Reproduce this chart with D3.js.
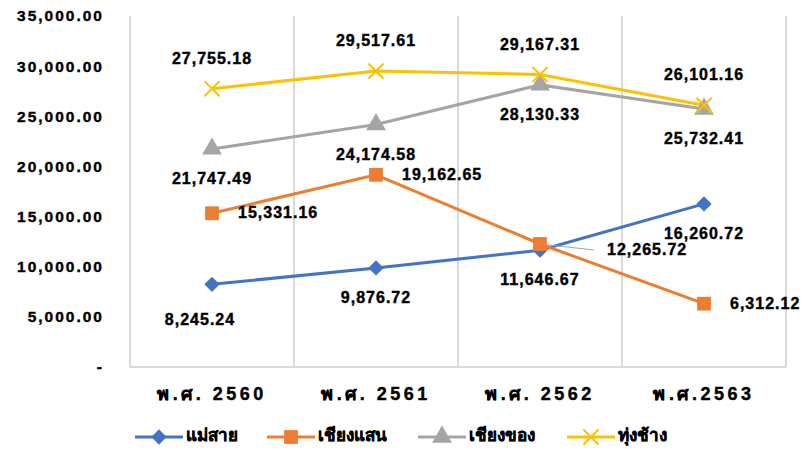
<!DOCTYPE html>
<html>
<head>
<meta charset="utf-8">
<script src="https://cdn.jsdelivr.net/npm/d3@7"></script>
<style>
  body { margin: 0; background: #fff; }
  text { font-family: "Liberation Sans", Arial, sans-serif; font-weight: bold; fill: #000; stroke: #000; stroke-width: 0.4px; }
</style>
</head>
<body>
<div id="chart"></div>
<script>
// data
var years = ["พ.ศ. 2560", "พ.ศ. 2561", "พ.ศ. 2562", "พ.ศ.2563"];
var seriesNames = ["แม่สาย", "เชียงแสน", "เชียงของ", "ทุ่งช้าง"];
var maeSai = [8245.24, 9876.72, 11646.67, 16260.72];
var chiangSaen = [15331.16, 19162.65, 12265.72, 6312.12];
var chiangKhong = [21747.49, 24174.58, 28130.33, 25732.41];
var thungChang = [27755.18, 29517.61, 29167.31, 26101.16];
var yTicks = [0, 5000, 10000, 15000, 20000, 25000, 30000, 35000];

var colors = ["#4472C4", "#ED7D31", "#A5A5A5", "#FFC000"];
var symbols = [d3.symbolDiamond2, d3.symbolSquare, d3.symbolTriangle, d3.symbolX];
var allSeries = [maeSai, chiangSaen, chiangKhong, thungChang];

// label placement per series: below / right / below / above
var labelPos = ["below", "right", "below", "above"];

var width = 803, height = 451;
var margin = {top: 16, right: 17, bottom: 84, left: 130};
var w = width - margin.left - margin.right,
    h = height - margin.top - margin.bottom;

var svg = d3.select("#chart")
  .append("svg")
    .attr("width", width)
    .attr("height", height)
  .append("g")
    .attr("transform", "translate(" + margin.left + "," + margin.top + ")");

var x = d3.scaleBand()
  .domain(years)
  .range([0, w]);

var y = d3.scaleLinear()
  .domain([0, 35000])
  .range([h, 0]);

// vertical grid lines at band edges
var edges = years.map(function(d) { return x(d); }).concat([w]);
svg.selectAll(".vgrid")
  .data(edges)
  .enter()
  .append("line")
    .attr("x1", function(d) { return d; })
    .attr("x2", function(d) { return d; })
    .attr("y1", 0)
    .attr("y2", h)
    .attr("stroke", "#d9d9d9")
    .attr("stroke-width", 2);

svg.append("line")
  .attr("x1", 0).attr("x2", w)
  .attr("y1", h).attr("y2", h)
  .attr("stroke", "#d9d9d9")
  .attr("stroke-width", 2);

// y axis labels
var yAxis = svg.append("g")
  .call(d3.axisLeft(y)
    .tickValues(yTicks)
    .tickSize(0)
    .tickPadding(26)
    .tickFormat(function(d) { return d === 0 ? "-" : d3.format(",.2f")(d); }));
yAxis.select(".domain").remove();
yAxis.selectAll("text")
  .style("font-size", "15.5px")
  .style("font-weight", "bold")
  .style("letter-spacing", "2px")
  .style("fill", "#000");

// x axis labels
var xAxis = svg.append("g")
  .attr("transform", "translate(0," + h + ")")
  .call(d3.axisBottom(x).tickSize(0).tickPadding(20));
xAxis.select(".domain").remove();
xAxis.selectAll("text")
  .style("font-size", "18px")
  .style("font-weight", "bold")
  .style("letter-spacing", "3.5px")
  .style("fill", "#000");

var cx = function(i) { return x(years[i]) + x.bandwidth() / 2; };

var line = d3.line()
  .x(function(d, i) { return cx(i); })
  .y(function(d) { return y(d); });

allSeries.forEach(function(values, s) {
  svg.append("path")
    .datum(values)
    .attr("d", line)
    .attr("fill", "none")
    .attr("stroke", colors[s])
    .attr("stroke-width", 3);
});

// leader line for the overlapping label
svg.append("line")
  .attr("x1", cx(2)).attr("y1", y(chiangSaen[2]))
  .attr("x2", cx(2) + 54).attr("y2", y(chiangSaen[2]) + 6)
  .attr("stroke", "#a6a6a6")
  .attr("stroke-width", 1);

function drawMarker(g, s, px, py) {
  var sizes = [150, 190, 170, 150];
  var m = g.append("path")
    .attr("d", d3.symbol().type(symbols[s]).size(sizes[s]))
    .attr("transform", "translate(" + px + "," + py + ")");
  if (s === 3) {
    m.attr("fill", "none").attr("stroke", colors[s]).attr("stroke-width", 2);
  } else {
    m.attr("fill", colors[s]);
  }
}

allSeries.forEach(function(values, s) {
  values.forEach(function(v, i) {
    drawMarker(svg, s, cx(i), y(v));
  });
});

// data labels
var fmt = d3.format(",.2f");
allSeries.forEach(function(values, s) {
  values.forEach(function(v, i) {
    var px = cx(i), py = y(v);
    var t = svg.append("text")
      .text(fmt(v))
      .style("font-size", "16px")
      .style("letter-spacing", "1px")
      .attr("dominant-baseline", "middle");
    if (labelPos[s] === "below") {
      t.attr("x", px).attr("y", py + 31).attr("text-anchor", "middle");
    } else if (labelPos[s] === "above") {
      t.attr("x", px).attr("y", py - 29).attr("text-anchor", "middle");
    } else {
      t.attr("x", px + 26).attr("y", py + 1).attr("text-anchor", "start");
    }
    // nudges for crowded spots
    if (s === 0 && i === 0) t.attr("x", px - 12).attr("y", py + 36);
    if (s === 1 && i === 2) t.attr("x", px + 67).attr("y", py + 7);
  });
});

// legend
var legendX = [135, 267, 418, 567];
var legend = d3.select("svg").append("g");
seriesNames.forEach(function(name, s) {
  var g = legend.append("g")
    .attr("transform", "translate(" + legendX[s] + ",437)");
  g.append("line")
    .attr("x1", 0).attr("x2", 48)
    .attr("y1", 0).attr("y2", 0)
    .attr("stroke", colors[s])
    .attr("stroke-width", 3);
  drawMarker(g, s, 24, 0);
  g.append("text")
    .attr("x", 51)
    .attr("y", 0)
    .attr("dominant-baseline", "middle")
    .style("font-size", "17px")
    .text(name);
});
</script>
</body>
</html>
